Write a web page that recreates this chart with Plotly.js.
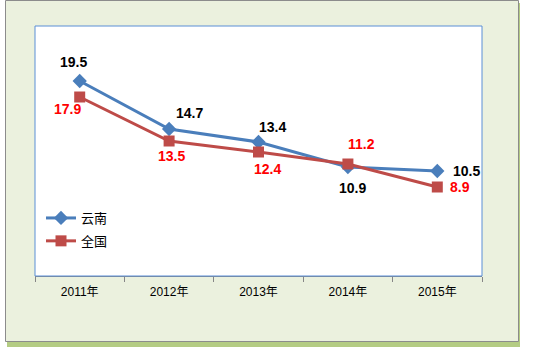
<!DOCTYPE html>
<html><head><meta charset="utf-8">
<script src="https://cdn.plot.ly/plotly-3.0.1.min.js"></script>
<style>html,body{margin:0;padding:0;background:#fff;}#chart{width:540px;height:352px;}</style>
</head><body><div id="chart"></div>
<script>
const categories = ['2011年','2012年','2013年','2014年','2015年'];
const yunnan = [19.5, 14.7, 13.4, 10.9, 10.5];
const national = [17.9, 13.5, 12.4, 11.2, 8.9];
const seriesNames = ['云南','全国'];

// label offsets in pixels (style, not data)
const yunnanOff = [[-6,-19],[20,-16],[14,-15],[5,21],[29,0]];
const nationalOff = [[-12,12],[2,15],[9,17],[14,-20],[23,0]];

const blue = '#4a7ebb', red = '#be4b48';
const labelFont = {family:'Liberation Sans, Arial, sans-serif', size:14, color:'#000'};

const traces = [
  {x:categories, y:yunnan, name:seriesNames[0], type:'scatter', mode:'lines+markers',
   line:{color:blue, width:3}, marker:{symbol:'diamond', size:11, color:blue}, legendgroup:'a'},
  {x:categories, y:national, name:seriesNames[1], type:'scatter', mode:'lines+markers',
   line:{color:red, width:3}, marker:{symbol:'square', size:11, color:red}, legendgroup:'b'}
];

const annotations = [];
yunnan.forEach((v,i)=>annotations.push({x:categories[i], y:v, text:'<b>'+v.toFixed(1)+'</b>', showarrow:false,
  xshift:yunnanOff[i][0], yshift:-yunnanOff[i][1], font:labelFont}));
national.forEach((v,i)=>annotations.push({x:categories[i], y:v, text:'<b>'+v.toFixed(1)+'</b>', showarrow:false,
  xshift:nationalOff[i][0], yshift:-nationalOff[i][1], font:Object.assign({}, labelFont, {color:'#ff0000'})}));

const L=35, R=482, T=26, B=276, W=R-L, H=B-T;
const px=x=>(x-L)/W, py=y=>(B-y)/H;

const layout = {
  width:540, height:352,
  margin:{l:L, r:540-R, t:T, b:352-B, pad:0},
  paper_bgcolor:'#ffffff', plot_bgcolor:'rgba(0,0,0,0)',
  showlegend:true,
  legend:{x:px(41), y:py(203), xanchor:'left', yanchor:'top', bgcolor:'rgba(0,0,0,0)',
    font:{family:'Noto Sans CJK SC, sans-serif', size:13, color:'#000'}, tracegroupgap:3, traceorder:'grouped'},
  xaxis:{type:'category', range:[-0.5, categories.length-0.5], autorange:false, showgrid:false, zeroline:false,
    showline:true, linecolor:'#868686', linewidth:1,
    ticks:'outside', ticklen:5, tickcolor:'#868686', tickson:'boundaries', ticklabelstandoff:5,
    tickfont:{family:'Liberation Sans, Noto Sans CJK SC, sans-serif', size:12, color:'#000'}, fixedrange:true},
  yaxis:{range:[0,25], visible:false, showgrid:false, zeroline:false, fixedrange:true},
  shapes:[
    {type:'rect', xref:'paper', yref:'paper', x0:px(7), x1:px(520), y0:py(347), y1:py(3),
      fillcolor:'rgba(155,187,89,0.75)', line:{width:0}, layer:'below'},
    {type:'rect', xref:'paper', yref:'paper', x0:px(5.5), x1:px(518.5), y0:py(341.5), y1:py(0.5),
      fillcolor:'#ebf1de', line:{color:'#8c8c8c', width:1}, layer:'below'},
    {type:'rect', xref:'paper', yref:'paper', x0:0, x1:1, y0:0, y1:1,
      fillcolor:'#ffffff', line:{width:0}, layer:'below'},
    {type:'rect', xref:'paper', yref:'paper', x0:0, x1:1, y0:0, y1:1,
      fillcolor:'rgba(0,0,0,0)', line:{color:'#5b8fd6', width:1}, layer:'above'}
  ],
  annotations:annotations
};
Plotly.newPlot('chart', traces, layout, {staticPlot:true, displayModeBar:false});
</script></body></html>
